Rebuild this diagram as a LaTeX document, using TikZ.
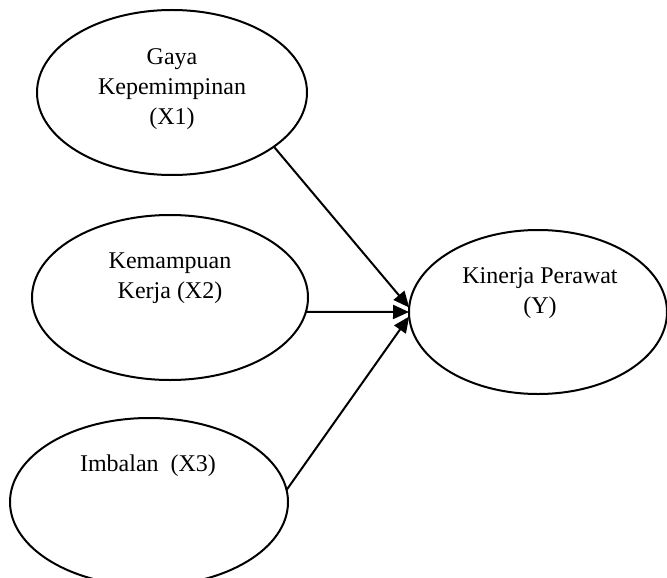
\documentclass[tikz,border=0pt]{standalone}
\usepackage{fontspec}
\setmainfont{Liberation Serif}
\usetikzlibrary{arrows.meta,shapes.geometric}

\begin{document}
\begin{tikzpicture}[x=0.5pt,y=-0.5pt,font=\fontsize{12}{15}\selectfont,
    bubble/.style={draw,ellipse,line width=1pt,inner sep=0pt,outer sep=0pt},
    lbl/.style={align=center,inner sep=0pt},
    link/.style={line width=1pt,-{Triangle[length=8pt,width=7pt]}}]
  \useasboundingbox (0,0) rectangle (667,577);
  \clip (0,0) rectangle (667,577);
  % variabel bebas
  \node[bubble,minimum width=135pt,minimum height=82.5pt] (x1) at (172,92.5) {};
  \node[bubble,minimum width=138pt,minimum height=82.5pt] (x2) at (170,297.5) {};
  \node[bubble,minimum width=139pt,minimum height=84pt] (x3) at (149,502) {};
  % variabel terikat
  \node[bubble,minimum width=129pt,minimum height=82pt] (y) at (538,312) {};
  \node[lbl] (tx1) at (172,89) {Gaya\\Kepemimpinan\\(X1)};
  \node[lbl] (tx2) at (170,278) {Kemampuan\\Kerja (X2)};
  \node[lbl] (tx3) at (148,466) {Imbalan\ \ (X3)};
  \node[lbl] (ty) at (540,293) {Kinerja Perawat\\(Y)};
  \draw[link] (x1.-28) -- (y.178);
  \draw[link] (x2.-6) -- (y.west);
  \draw[link] (x3.5) -- (y.182);
\end{tikzpicture}
\end{document}
